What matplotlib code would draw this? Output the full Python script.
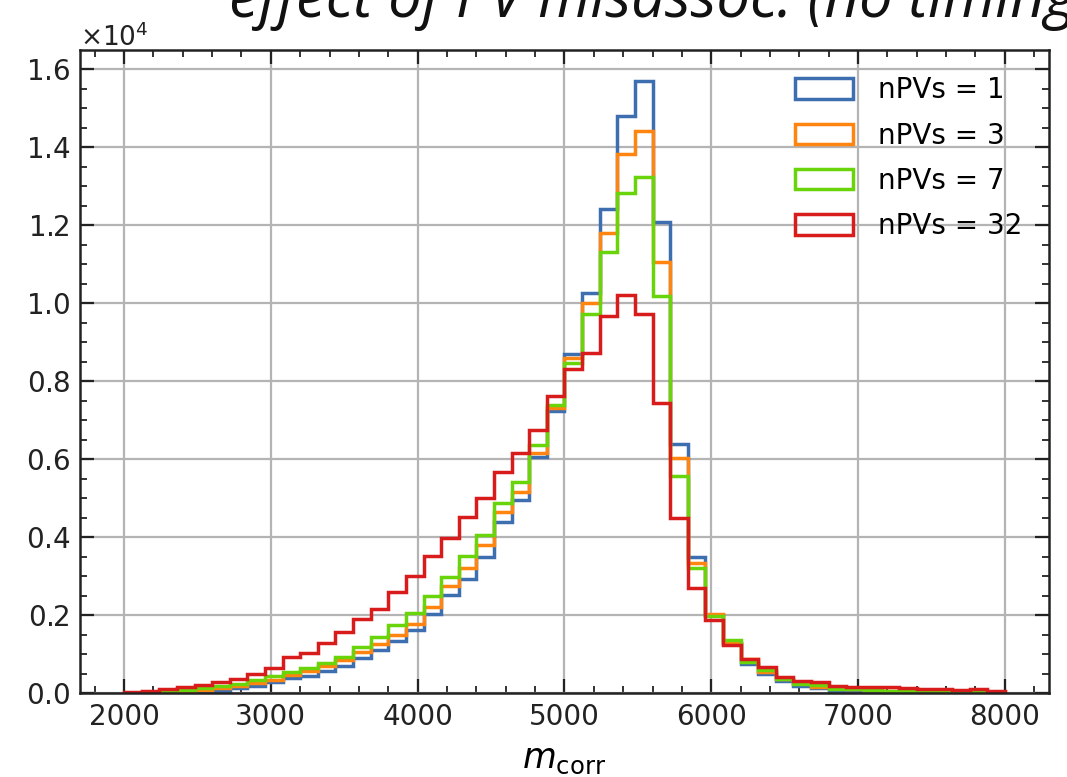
import numpy as np
import matplotlib
matplotlib.use("Agg")
import matplotlib.pyplot as plt
from matplotlib.ticker import MultipleLocator

# Bin edges: 50 bins from 2000 to 8000
edges = np.linspace(2000, 8000, 51)

labels = ["nPVs = 1", "nPVs = 3", "nPVs = 7", "nPVs = 32"]
colors = ["#3c6eb0", "#ff8410", "#6ad40a", "#d81c1c"]

npv1 = [10, 20, 30, 40, 55, 70, 130, 200, 280, 380,
        450, 580, 700, 900, 1100, 1350, 1620, 2040, 2510, 2940,
        3500, 4400, 4950, 6070, 7230, 8710, 10260, 12420, 14800, 15710,
        12080, 6380, 3490, 2000, 1300, 750, 490, 320, 190, 130,
        60, 40, 35, 30, 25, 20, 18, 15, 12, 10]
npv3 = [10, 20, 30, 50, 80, 130, 190, 260, 340, 470,
        560, 700, 850, 1050, 1260, 1500, 1780, 2210, 2740, 3220,
        3800, 4650, 5170, 6170, 7310, 8600, 10010, 11800, 13820, 14420,
        11060, 6030, 3350, 2040, 1300, 870, 550, 360, 260, 170,
        140, 100, 90, 70, 60, 50, 45, 40, 35, 25]
npv7 = [20, 30, 40, 90, 130, 190, 240, 340, 440, 540,
        640, 790, 940, 1190, 1450, 1750, 2050, 2490, 2980, 3520,
        4060, 4880, 5410, 6370, 7400, 8480, 9730, 11310, 12840, 13250,
        10180, 5580, 3210, 1990, 1370, 810, 600, 360, 240, 210,
        110, 100, 80, 60, 50, 40, 35, 30, 25, 20]
npv32 = [40, 70, 100, 170, 210, 300, 370, 490, 650, 920,
         1045, 1290, 1580, 1900, 2170, 2600, 3000, 3530, 3970, 4510,
         5020, 5670, 6150, 6760, 7630, 8310, 8730, 9680, 10210, 9730,
         7440, 4500, 2700, 1880, 1250, 870, 680, 410, 310, 280,
         190, 170, 170, 150, 130, 100, 100, 90, 120, 70]

series = [npv1, npv3, npv7, npv32]

plt.rcParams['font.family'] = ['DejaVu Sans']
plt.rcParams['mathtext.fontset'] = 'dejavusans'

fig = plt.figure(figsize=(10.67, 7.77), dpi=100)
ax = fig.add_axes([0.075, 0.1077, 0.908, 0.828])

centers = 0.5 * (edges[:-1] + edges[1:])
for vals, lab, col in zip(series, labels, colors):
    ax.hist(centers, bins=edges, weights=vals, histtype='step',
            color=col, linewidth=2.5, label=lab)

ax.ticklabel_format(axis='y', style='sci', scilimits=(0, 0), useMathText=True)
ax.yaxis.get_offset_text().set_fontsize(19)

ax.xaxis.set_major_locator(MultipleLocator(1000))
ax.xaxis.set_minor_locator(MultipleLocator(200))
ax.yaxis.set_major_locator(MultipleLocator(2000))
ax.yaxis.set_minor_locator(MultipleLocator(500))

ax.tick_params(which='both', direction='in', top=True, right=True,
               labelsize=20, colors='#222222')
ax.tick_params(which='major', length=10, width=1.6, pad=7)
ax.tick_params(which='minor', length=5, width=1.3)
for sp in ax.spines.values():
    sp.set_linewidth(1.8)
    sp.set_color('#222222')

ax.grid(True, which='major', color='#b4b4b4', linewidth=1.6)
ax.set_axisbelow(True)

ax.set_xlabel(r'$m_{\rm corr}$', fontsize=25, labelpad=8)

leg = ax.legend(loc='upper right', frameon=False, fontsize=20,
                handlelength=2.1, handleheight=0.75, labelspacing=0.62,
                handletextpad=0.9, borderaxespad=0.55)

fig.text(0.215, 0.978, "effect of PV misassoc. (no timing)", fontsize=43,
         style='italic', family=['Open Sans', 'DejaVu Sans'], color='#111111',
         ha='left', va='baseline')

fig.savefig("out.png", dpi=100)
